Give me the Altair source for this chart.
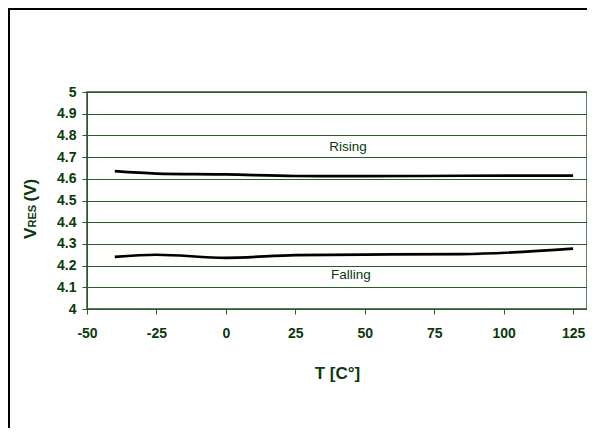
import altair as alt
import pandas as pd

# ---- data ----
temps = [-40, -25, 0, 25, 50, 85, 125]
rising = [4.635, 4.624, 4.620, 4.613, 4.612, 4.614, 4.615]
falling = [4.240, 4.250, 4.236, 4.248, 4.251, 4.253, 4.278]

x_ticks = [-50, -25, 0, 25, 50, 75, 100, 125]
y_ticks = [4.0, 4.1, 4.2, 4.3, 4.4, 4.5, 4.6, 4.7, 4.8, 4.9, 5.0]

label_text = ["Rising", "Falling"]
label_t = [44, 45]
label_v = [4.747, 4.155]

GREEN_TXT = "#0a3a0a"
GREEN_LN = "#2a5a2a"
FONT = "Liberation Sans"

rows = []
for t, r, f in zip(temps, rising, falling):
    rows.append({"T": t, "V": r, "series": "Rising"})
    rows.append({"T": t, "V": f, "series": "Falling"})
df = pd.DataFrame(rows)
labels = pd.DataFrame({"text": label_text, "T": label_t, "V": label_v})

xscale = alt.Scale(domain=[-50, 130], nice=False, zero=False)
yscale = alt.Scale(domain=[4, 5], nice=False, zero=False)

xaxis = alt.Axis(values=x_ticks, grid=False, title="T [C°]", labelFont=FONT,
                 labelFontSize=14, labelFontWeight="bold", labelColor=GREEN_TXT,
                 labelExpr="datum.value + ''", labelOverlap=False,
                 titleFont=FONT, titleFontSize=17, titleFontWeight="bold",
                 titleColor=GREEN_TXT, titlePadding=25, tickSize=5, tickColor=GREEN_LN,
                 domainColor=GREEN_LN, labelPadding=12, labelFlush=False)
yaxis = alt.Axis(values=y_ticks, grid=True, gridColor=GREEN_LN, gridOpacity=1,
                 title=None, format="~g", labelOverlap=False, labelFont=FONT,
                 labelFontSize=14, labelFontWeight="bold", labelColor=GREEN_TXT,
                 tickSize=5, tickColor=GREEN_LN, domainColor=GREEN_LN, labelPadding=6,
                 labelFlush=False)

lines = alt.Chart(df).mark_line(color="black", strokeWidth=2.7, interpolate="monotone").encode(
    x=alt.X("T:Q", scale=xscale, axis=xaxis),
    y=alt.Y("V:Q", scale=yscale, axis=yaxis),
    detail="series:N",
)

txt = alt.Chart(labels).mark_text(font=FONT, fontSize=13.5, color=GREEN_TXT,
                                  align="center", baseline="middle").encode(
    x=alt.X("T:Q", scale=xscale, axis=xaxis),
    y=alt.Y("V:Q", scale=yscale, axis=yaxis),
    text="text:N",
)

# y-axis title V_RES (V) built from rotated pieces
def ytitle(s, size, yv):
    return alt.Chart(pd.DataFrame({"t": [s]})).mark_text(
        font=FONT, fontSize=size, fontWeight="bold", color=GREEN_TXT,
        angle=270, align="left", baseline="alphabetic").encode(
        x=alt.value(-51), y=alt.value(yv), text="t:N")

t1 = ytitle("V", 17, 147)
t2 = ytitle("RES", 11, 135.5)
t3 = ytitle("(V)", 17, 109.5)

frame_top = alt.Chart(pd.DataFrame({"a": [0]})).mark_rule(color="black", strokeWidth=2).encode(
    x=alt.value(-79), x2=alt.value(500), y=alt.value(-83))
frame_left = alt.Chart(pd.DataFrame({"a": [0]})).mark_rule(color="black", strokeWidth=2).encode(
    x=alt.value(-78), y=alt.value(-84), y2=alt.value(336))

chart = alt.layer(lines, txt, t1, t2, t3, frame_top, frame_left).properties(
    width=500, height=217,
    autosize=alt.AutoSizeParams(type="none"),
    padding={"left": 79, "top": 84, "right": 0, "bottom": 119},
    background="white",
).configure_view(stroke=GREEN_LN, strokeWidth=1.5)

chart.save("out.html", embed_options={"renderer": "svg", "actions": False})
